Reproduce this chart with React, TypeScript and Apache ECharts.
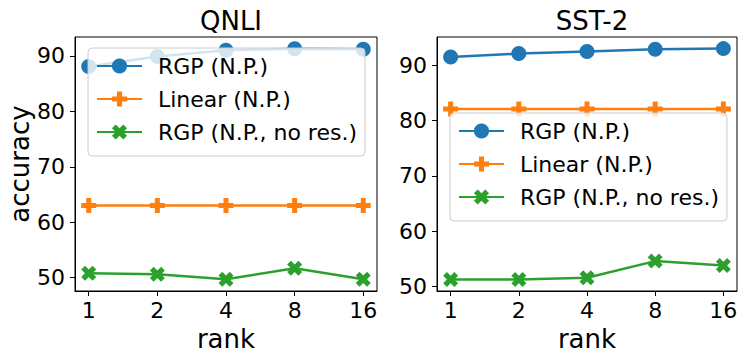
import React, { useEffect, useRef } from "react";
import * as echarts from "echarts";

const ranks = ["1", "2", "4", "8", "16"];
const seriesNames = ["RGP (N.P.)", "Linear (N.P.)", "RGP (N.P., no res.)"];
const qnliRGP = [88.1, 89.9, 91.0, 91.3, 91.2];
const qnliLinear = [63.0, 63.0, 63.0, 63.0, 63.0];
const qnliNoRes = [50.8, 50.6, 49.7, 51.7, 49.7];
const sstRGP = [91.5, 92.1, 92.5, 92.9, 93.0];
const sstLinear = [82.1, 82.1, 82.1, 82.1, 82.1];
const sstNoRes = [51.3, 51.3, 51.6, 54.6, 53.8];
const yTicks = [50, 60, 70, 80, 90];
const titles = ["QNLI", "SST-2"];

const COLORS = ["#1f77b4", "#ff7f0e", "#2ca02c"];
const FONT = "DejaVu Sans";
const PLUS = "path://M-1,-3L-1,-1L-3,-1L-3,1L-1,1L-1,3L1,3L1,1L3,1L3,-1L1,-1L1,-3Z";
const XMARK = "path://M-1,-2L0,-1L1,-2L2,-1L1,0L2,1L1,2L0,1L-1,2L-2,1L-1,0L-2,-1Z";
const SYMBOLS = ["circle", PLUS, XMARK];

export default function App() {
  const ref = useRef<HTMLDivElement>(null);
  useEffect(() => {
    if (!ref.current) return;
    const chart = echarts.init(ref.current, undefined, { renderer: "svg" });
    const xIdx = ranks.map((_, i) => i);
    const grids = [
      { left: 75, top: 37, width: 302, height: 254 },
      { left: 437, top: 37, width: 300, height: 254 },
    ];
    const yRanges = [
      [47.6, 93.4],
      [49.2, 95.1],
    ];
    const data = [
      [qnliRGP, qnliLinear, qnliNoRes],
      [sstRGP, sstLinear, sstNoRes],
    ];
    const axisCommon = {
      axisLine: { show: true, onZero: false, lineStyle: { color: "#000", width: 1 } },
      axisTick: { show: true, inside: false, length: 5, lineStyle: { color: "#000", width: 1 } },
      splitLine: { show: false },
    };
    const xAxes = grids.map((_, g) => ({
      type: "value",
      gridIndex: g,
      min: -0.2,
      max: 4.2,
      ...axisCommon,
      axisTick: { ...axisCommon.axisTick, customValues: xIdx },
      axisLabel: {
        customValues: xIdx,
        formatter: (v: number) => ranks[Math.round(v)] ?? "",
        color: "#000",
        fontSize: 22,
        fontFamily: FONT,
        margin: 8,
      },
      name: "rank",
      nameLocation: "middle",
      nameGap: 30,
      nameTextStyle: { color: "#000", fontSize: 26, fontFamily: FONT },
    }));
    const yAxes = grids.map((_, g) => ({
      type: "value",
      gridIndex: g,
      min: yRanges[g][0],
      max: yRanges[g][1],
      ...axisCommon,
      axisTick: { ...axisCommon.axisTick, customValues: yTicks },
      axisLabel: {
        customValues: yTicks,
        color: "#000",
        fontSize: 22,
        fontFamily: FONT,
        margin: 10,
      },
      name: g === 0 ? "accuracy" : "",
      nameLocation: "middle",
      nameGap: 42,
      nameTextStyle: { color: "#000", fontSize: 26, fontFamily: FONT },
    }));
    const series: any[] = [];
    data.forEach((group, g) => {
      group.forEach((vals, s) => {
        series.push({
          type: "line",
          name: seriesNames[s],
          xAxisIndex: g,
          yAxisIndex: g,
          data: vals.map((v, i) => [i, v]),
          symbol: SYMBOLS[s],
          symbolSize: 15,
          showAllSymbol: true,
          lineStyle: { color: COLORS[s], width: 2.5 },
          itemStyle: { color: COLORS[s] },
          color: COLORS[s],
          z: 2,
        });
      });
    });
    const legendCommon = {
      orient: "vertical",
      data: seriesNames,
      itemWidth: 45,
      itemHeight: 19,
      itemGap: 11,
      padding: [7, 8, 13, 8],
      backgroundColor: "rgba(255,255,255,0.8)",
      borderColor: "#cccccc",
      borderWidth: 1,
      borderRadius: 4,
      selectedMode: false,
      textStyle: {
        color: "#000",
        fontSize: 22,
        lineHeight: 19,
        fontFamily: FONT,
        padding: [0, 0, 0, 11],
      },
      z: 10,
    };
    chart.setOption({
      animation: false,
      backgroundColor: "#fff",
      title: titles.map((t, g) => ({
        text: t,
        left: grids[g].left + grids[g].width / 2,
        textAlign: "center",
        top: 3,
        textStyle: { color: "#000", fontSize: 26, fontWeight: "normal", fontFamily: FONT },
      })),
      grid: grids.map((gr) => ({
        ...gr,
        show: true,
        borderColor: "#000",
        borderWidth: 1,
        backgroundColor: "transparent",
      })),
      xAxis: xAxes,
      yAxis: yAxes,
      legend: [
        { ...legendCommon, left: 88, top: 48 },
        { ...legendCommon, left: 450, top: 113 },
      ],
      series,
    });
    return () => chart.dispose();
  }, []);
  return (
    <div
      ref={ref}
      style={{ position: "fixed", left: 0, top: 0, width: 747, height: 360, background: "#fff" }}
    />
  );
}
